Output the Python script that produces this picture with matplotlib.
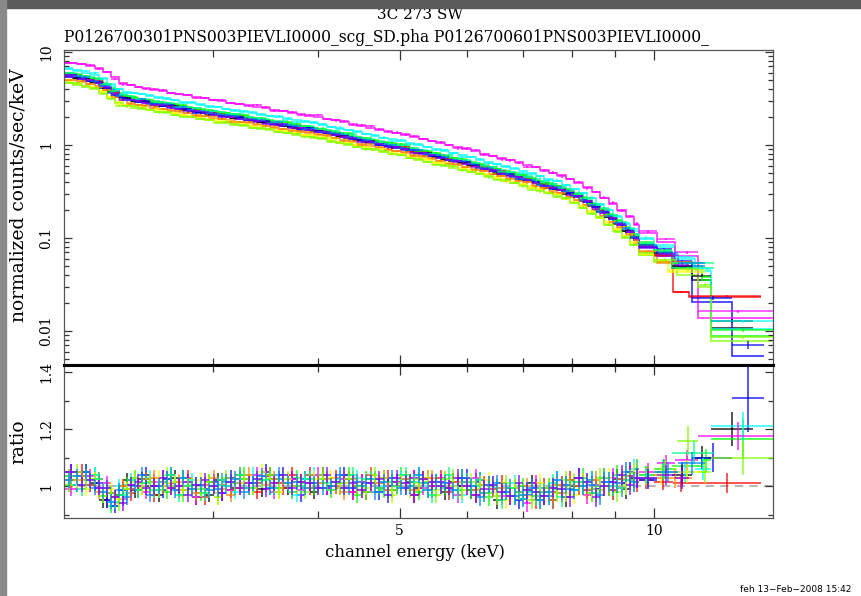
import numpy as np
import matplotlib
matplotlib.use('Agg')
import matplotlib.pyplot as plt
from matplotlib.patches import Rectangle
from matplotlib.ticker import NullFormatter, LogLocator

plt.rcParams['font.family'] = 'DejaVu Serif'

TITLE_TOP = '3C 273 SW'
TITLE_FILES = 'P0126700301PNS003PIEVLI0000_scg_SD.pha P0126700601PNS003PIEVLI0000_'
STAMP = 'feh 13\u2212Feb\u22122008 15:42'

# xspec plot colours: black, red, green, blue, cyan, magenta, yellow, orange,
# yellow-green, spring green, azure, purple
SERIES_COLORS = ['#000000', '#ff0000', '#00ff00', '#0000ff', '#00ffff', '#ff00ff',
                 '#ffff00', '#ff8000', '#80ff00', '#00ff80', '#0080ff', '#8000ff']

# two channel groupings below 9.6 keV (bin edges, keV); spectra alternate
ENERGY_EDGES_A = [2.00, 2.05, 2.10, 2.15, 2.20, 2.25, 2.30, 2.35, 2.40, 2.45, 2.50,
                  2.56, 2.62, 2.68, 2.74, 2.80, 2.87, 2.94, 3.01, 3.08, 3.15,
                  3.23, 3.31, 3.39, 3.47, 3.55, 3.64, 3.73, 3.82, 3.91, 4.00,
                  4.10, 4.20, 4.30, 4.40, 4.51, 4.62, 4.73, 4.84, 4.96, 5.08, 5.20,
                  5.33, 5.46, 5.59, 5.72, 5.86, 6.00, 6.15, 6.30, 6.45, 6.60,
                  6.76, 6.92, 7.08, 7.25, 7.42, 7.60, 7.78, 7.96,
                  8.15, 8.34, 8.54, 8.74, 8.95, 9.16, 9.38, 9.60]
ENERGY_EDGES_B = [2.00, 2.075, 2.125, 2.175, 2.225, 2.275, 2.325, 2.375, 2.425, 2.475,
                  2.53, 2.59, 2.65, 2.71, 2.77, 2.835, 2.905, 2.975, 3.045, 3.115,
                  3.19, 3.27, 3.35, 3.43, 3.51, 3.595, 3.685, 3.775, 3.865, 3.955,
                  4.05, 4.15, 4.25, 4.35, 4.455, 4.565, 4.675, 4.785, 4.90, 5.02,
                  5.14, 5.265, 5.395, 5.525, 5.655, 5.79, 5.93, 6.075, 6.225, 6.375,
                  6.525, 6.68, 6.84, 7.00, 7.165, 7.335, 7.51, 7.69, 7.87, 8.055,
                  8.245, 8.44, 8.64, 8.845, 9.055, 9.27, 9.49, 9.60]
SERIES_GRID = [0, 1, 0, 1, 0, 1, 0, 1, 0, 1, 0, 1]

# folded model of the black spectrum (counts/sec/keV), one value per channel
BASE_MODEL = [5.5, 5.25, 5.0, 4.75, 4.35, 3.8, 3.35, 3.12, 3.0, 2.92,
              2.80, 2.70, 2.61, 2.52, 2.44, 2.36, 2.27, 2.19, 2.12, 2.04,
              1.97, 1.90, 1.83, 1.77, 1.71, 1.65, 1.59, 1.53, 1.48, 1.43,
              1.37, 1.31, 1.25, 1.20, 1.14, 1.09, 1.04, 1.00, 0.956, 0.917,
              0.868, 0.826, 0.786, 0.748, 0.712, 0.678, 0.645, 0.612, 0.578, 0.547,
              0.518, 0.491, 0.464, 0.44, 0.412, 0.386, 0.361, 0.338, 0.31, 0.281,
              0.252, 0.222, 0.193, 0.166, 0.141, 0.119, 0.099]

# relative normalisation of each spectrum
NORM = [1.00, 1.00, 1.07, 0.98, 1.20, 1.40, 0.87, 0.90, 0.84, 1.05, 1.02, 0.97]

# common ratio residual (percent)
RATIO_TREND = [2, 2, 2, 1, -2, -4, -3, -1, 0, 1, 0, 0, 1, 0, 0, -1, -1, 0, -1, 0,
               1, 1, 1, 2, 1, 1, 1, 0, 1, 1, 1, 0, 1, 1, 0, 1, 1, 0, 0, 1,
               0, 1, 0, 0, 1, 0, 0, 0, -1, -1, -2, -2, -2, -3, -2, -2, -2, -1,
               -1, 0, 0, -1, 0, 0, 1, 2, 3]

# per-spectrum scatter about that trend, in steps of DEV_STEP percent
DEV_STEP = 1.5
RATIO_DEV = [
    [1, -1, 2, 0, -2, 1, 0, 2, -1, 1, 0, -2, 1, 2, -1, 0, 1, -2, 2, 0,
     -1, 1, 0, -2, 2, 1, -1, 0, 1, -2, 2, 0, -1, 1, 0, -2, 1, 2, -1, 0,
     1, -1, 2, 0, -2, 1, 0, -1, 2, 1, -2, 0, 1, -1, 2, 0, -1, 1, -2, 0,
     1, 2, -1, 0, 1, -2, 0],
    [0, 2, -1, 1, -2, 0, 2, -1, 0, 1, -2, 1, 0, -1, 2, 1, -2, 0, 1, -1,
     2, 0, -2, 1, 0, -1, 2, 1, -1, 0, -1, 2, 0, -2, 1, 0, -1, 2, 0, 1,
     -2, 1, 0, 2, -1, 0, 1, -2, 1, 0, 2, -1, 0, 1, -2, 1, 0, -1, 2, 0,
     -1, 0, 2, -1, 0, 1, -1],
    [-1, 0, 1, 2, -1, -2, 0, 1, 2, -1, 1, 0, -2, 1, 2, 0, -1, 1, -2, 0,
     0, 2, -1, 0, 1, -2, 1, 2, 0, -1, 1, -1, 0, 2, -2, 1, 0, -1, 1, 2,
     0, -2, 1, 1, -1, 0, 2, -1, 0, -2, 1, 0, -1, 2, 0, -2, 1, 0, 1, -1,
     2, -1, 0, 1, 2, 0, 1],
    [2, 1, -1, 0, -2, -2, 1, 0, -1, 2, 0, -1, 2, 0, 1, -2, 0, 1, -1, 2,
     1, -1, 0, 2, -1, 0, 1, -2, 2, 0, -1, 1, 2, -1, 0, 1, -2, 0, 1, -1,
     2, 0, -1, 1, -2, 0, 2, 1, -1, 0, 0, 1, -2, 0, 1, -1, -2, 1, 0, 2,
     -1, 0, 1, -1, 0, 2, 0],
    [0, -1, 1, 2, 0, -1, 2, -1, 1, 0, 2, -1, 0, 1, -2, 2, 0, -1, 1, 0,
     -2, 1, 2, 0, -1, 1, 0, -2, 1, 2, 0, -1, 1, 0, 2, -1, 1, 0, -2, 1,
     -1, 2, 0, -1, 1, 0, -2, 1, 2, -1, 1, 0, 2, -1, 0, 1, -1, 2, 0, -1,
     0, 2, -1, 1, 0, -1, 2],
    [-2, 0, 1, -1, 2, 0, -1, 1, 0, -2, 1, 2, -1, 0, 1, -2, 1, 0, 2, -1,
     0, -1, 2, 1, -2, 0, 1, -1, 0, 2, -1, 0, 1, -2, 1, 2, 0, -1, 1, 0,
     2, -1, 0, 1, 0, -2, 1, 2, -1, 0, -1, 1, 0, -2, 2, 0, 1, -1, 0, 1,
     -2, 1, 0, 2, -1, 1, 0],
    [1, 0, -2, 1, 0, 2, -1, 0, 1, -1, -1, 2, 0, 1, -1, 0, 2, -1, -2, 1,
     1, 0, -1, 2, 0, -2, 1, 0, -1, 1, 0, 2, -1, 0, 1, -1, 0, 2, -2, 0,
     -1, 0, 2, -1, 1, 0, -1, 1, 0, 2, 0, -2, 1, 0, -1, 2, 0, 1, -1, -2,
     1, 0, -1, 2, 0, -1, 1],
    [0, 1, -1, -2, 1, 0, 2, 0, -1, 1, 2, 0, -1, 1, 0, -1, 1, 2, 0, -2,
     -1, 2, 0, -1, 1, 0, -2, 1, 2, 0, 1, 0, -2, 1, -1, 2, 0, -1, 0, 1,
     -1, 1, 2, 0, -2, 1, 0, -1, 1, 0, 1, -1, 0, 2, -1, 0, -2, 1, 1, 0,
     -1, 2, 0, -1, 1, 0, 2],
    [-1, 2, 0, 1, -1, 1, -2, 0, 2, 0, 1, -1, 2, 0, -2, 1, 0, 1, -1, 2,
     0, 1, -1, 0, 2, -1, 0, 1, -2, 0, 2, -1, 0, 1, 0, -2, 2, 1, -1, 0,
     0, 1, -1, -2, 1, 2, -1, 0, 1, -1, -1, 2, 1, 0, -2, 0, 1, -1, 2, 1,
     0, -1, 2, 0, -2, 1, -1],
    [1, -2, 0, 1, 1, -1, 0, 2, -1, 0, -1, 1, 2, -2, 0, 1, -1, 0, 2, 1,
     2, -1, 1, 0, -1, 2, -2, 0, 1, -1, 0, 1, -1, 2, 0, 1, -1, -2, 0, 2,
     1, 0, -2, 0, 2, -1, 1, 0, -1, 1, -2, 1, 0, 1, -1, 0, 2, -2, 0, 1,
     1, -1, 2, 0, -1, 0, 2],
    [0, 1, 2, -1, 0, -1, 1, -2, 0, 2, -2, 0, 1, -1, 2, 0, 1, -1, 0, 1,
     1, -2, 0, 1, -1, 2, 0, 1, -1, 0, -1, 0, 2, -1, 1, 0, -2, 1, 2, -1,
     0, 2, -1, 1, 0, -1, 2, 0, -2, 1, 2, 0, -1, 0, 1, -2, 0, 2, 1, -1,
     0, 1, -2, 1, 0, 2, -1],
    [2, -1, 0, -1, 1, 0, -2, 1, 1, -1, 0, 2, -1, 0, -2, 1, 2, 0, -1, 1,
     -1, 0, 1, -2, 0, 2, -1, 1, 0, -1, 2, 1, -1, 0, -1, 0, 1, -2, 2, 0,
     -2, 1, 1, 0, -1, 2, 0, -2, 0, 1, 0, -1, 2, 1, 0, -1, 1, 0, -2, 2,
     1, -2, 0, 1, 2, -1, 0],
]

# 1-sigma ratio error per channel (percent)
RATIO_ERR = [2.6] * 10 + [2.7] * 20 + [2.8] * 15 + [3.0] * 10 + [3.2] * 7 + [3.5] * 5

# high-energy grouping differs per spectrum: edges (keV), model, ratio, error
TAIL_EDGES = [
    [9.6, 10.0, 10.5, 11.1, 11.7, 13.1],
    [9.6, 10.0, 10.53, 11.0, 13.4],
    [9.6, 10.0, 10.5, 11.4, 11.7, 13.85],
    [9.6, 10.1, 10.5, 11.1, 12.4, 13.5],
    [9.6, 10.0, 10.6, 11.2, 11.7, 13.85],
    [9.6, 10.1, 10.6, 11.3, 13.85],
    [9.6, 10.0, 10.4, 11.5],
    [9.6, 10.1, 11.1],
    [9.6, 10.0, 10.65, 11.3, 11.7, 13.85],
    [9.6, 10.0, 10.5, 11.8],
    [9.6, 10.1, 10.7, 11.5],
    [9.6, 10.1, 10.6, 11.0],
]
TAIL_MODEL = [
    [0.082, 0.066, 0.048, 0.0355, 0.0107],
    [0.080, 0.064, 0.026, 0.0234],
    [0.086, 0.070, 0.050, 0.035, 0.0088],
    [0.079, 0.071, 0.054, 0.0205, 0.0054],
    [0.097, 0.079, 0.060, 0.044, 0.0105],
    [0.112, 0.090, 0.064, 0.0138],
    [0.066, 0.055, 0.043],
    [0.070, 0.054],
    [0.066, 0.055, 0.040, 0.030, 0.0078],
    [0.085, 0.070, 0.048],
    [0.082, 0.065, 0.050],
    [0.078, 0.064, 0.050],
]
TAIL_RATIO = [
    [1.03, 1.05, 1.04, 1.10, 1.20],
    [1.02, 1.015, 1.01, 1.01],
    [1.04, 1.06, 1.07, 1.09, 1.165],
    [1.02, 1.06, 1.05, 1.10, 1.31],
    [1.04, 1.06, 1.05, 1.06, 1.21],
    [1.05, 1.08, 1.09, 1.175],
    [1.03, 1.04, 1.05],
    [1.04, 1.03],
    [1.04, 1.06, 1.16, 1.05, 1.10],
    [1.04, 1.05, 1.117],
    [1.03, 1.05, 1.08],
    [1.03, 1.04, 1.03],
]
TAIL_ERR = [
    [0.03, 0.03, 0.035, 0.04, 0.06],
    [0.03, 0.03, 0.03, 0.035],
    [0.03, 0.03, 0.035, 0.04, 0.07],
    [0.03, 0.035, 0.035, 0.05, 0.12],
    [0.03, 0.03, 0.035, 0.04, 0.05],
    [0.03, 0.03, 0.035, 0.05],
    [0.03, 0.035, 0.04],
    [0.03, 0.035],
    [0.03, 0.035, 0.05, 0.04, 0.06],
    [0.03, 0.03, 0.04],
    [0.03, 0.035, 0.04],
    [0.03, 0.035, 0.04],
]


def series_arrays(i):
    grid = ENERGY_EDGES_A if SERIES_GRID[i] == 0 else ENERGY_EDGES_B
    n = len(grid) - 1
    edges = np.array(grid + TAIL_EDGES[i][1:])
    model = np.concatenate([np.array(BASE_MODEL[:n]) * NORM[i], TAIL_MODEL[i]])
    dev = np.array(RATIO_TREND[:n]) + DEV_STEP * np.array(RATIO_DEV[i][:n])
    ratio = np.concatenate([1 + dev / 100.0, TAIL_RATIO[i]])
    err = np.concatenate([np.array(RATIO_ERR[:n]) / 100.0, TAIL_ERR[i]])
    return edges, model, ratio, err


W, H = 861, 596
fig = plt.figure(figsize=(W / 100, H / 100), dpi=100)
ax1 = fig.add_axes([64 / W, 1 - 365 / H, 709 / W, 315 / H])
ax2 = fig.add_axes([64 / W, 1 - 518 / H, 709 / W, 153 / H], sharex=ax1)

for i, c in enumerate(SERIES_COLORS):
    edges, model, ratio, err = series_arrays(i)
    mid = 0.5 * (edges[:-1] + edges[1:])
    half = 0.5 * np.diff(edges)
    ax1.stairs(model, edges, baseline=None, color=c, lw=1.2, alpha=0.8)
    ax1.errorbar(mid, model * ratio, xerr=half, yerr=model * err, fmt='none',
                 ecolor=c, elinewidth=1.1, alpha=0.8)
    ax2.errorbar(mid, ratio, xerr=half, yerr=err, fmt='none',
                 ecolor=c, elinewidth=1.1, alpha=0.85)

ax2.axhline(1.0, color='#b8b8b8', ls=(0, (4, 3)), lw=1.5, zorder=0.5)

ax1.set_xscale('log')
ax1.set_yscale('log')
ax1.set_xlim(2.0, 13.85)
ax1.set_ylim(0.0043, 10.5)
ax2.set_ylim(0.888, 1.425)

ax2.set_xticks([5, 10])
ax2.set_xticklabels(['5', '10'])
ax2.set_xticks([3, 4, 6, 7, 8, 9], minor=True)
ax2.xaxis.set_minor_formatter(NullFormatter())

ax1.set_yticks([0.01, 0.1, 1, 10])
ax1.set_yticklabels(['0.01', '0.1', '1', '10'], rotation=90, va='center')
ax1.yaxis.set_minor_locator(LogLocator(base=10, subs=range(2, 10)))
ax1.yaxis.set_minor_formatter(NullFormatter())

ax2.set_yticks([1.0, 1.2, 1.4])
ax2.set_yticklabels(['1', '1.2', '1.4'], rotation=90, va='center')
ax2.set_yticks([0.9, 1.1, 1.3], minor=True)

for ax in (ax1, ax2):
    for sp in ax.spines.values():
        sp.set_color('#555555')
        sp.set_linewidth(0.9)
    ax.tick_params(which='both', direction='in', top=True, right=True,
                   color='#333333', labelsize=10, width=0.9)
    ax.tick_params(axis='x', which='major', length=7, pad=4)
    ax.tick_params(axis='x', which='minor', length=5)
    ax.tick_params(axis='y', which='major', length=6, pad=8)
    ax.tick_params(axis='y', which='minor', length=3.5)
ax1.tick_params(axis='x', which='both', labelbottom=False)
ax1.spines['bottom'].set_color('black')
ax1.spines['bottom'].set_linewidth(2.2)
ax2.spines['top'].set_color('black')
ax2.spines['top'].set_linewidth(2.2)

ax1.set_ylabel('normalized counts/sec/keV', fontsize=13.5)
ax1.yaxis.set_label_coords(-0.052, 0.54)
ax2.set_ylabel('ratio', fontsize=13.5)
ax2.yaxis.set_label_coords(-0.052, 0.5)
ax2.set_xlabel('channel energy (keV)', fontsize=12)
ax2.xaxis.set_label_coords(0.495, -0.17)

fig.text(420 / W, 1 - 8 / H, TITLE_TOP, ha='center', va='top', fontsize=11)
fig.text(64 / W, 1 - 42 / H, TITLE_FILES, ha='left', va='baseline', fontsize=11.2)
fig.text(740 / W, 1 - 592 / H, STAMP, ha='left', va='baseline', fontsize=6.5,
         family='DejaVu Sans')

fig.add_artist(Rectangle((0, 1 - 8 / H), 1, 8 / H, transform=fig.transFigure,
                         color='#5a5a5a', zorder=10))
fig.add_artist(Rectangle((0, 0), 6 / W, 1, transform=fig.transFigure,
                         color='#8a8a8a', zorder=10))

fig.savefig('out.png', dpi=100)
